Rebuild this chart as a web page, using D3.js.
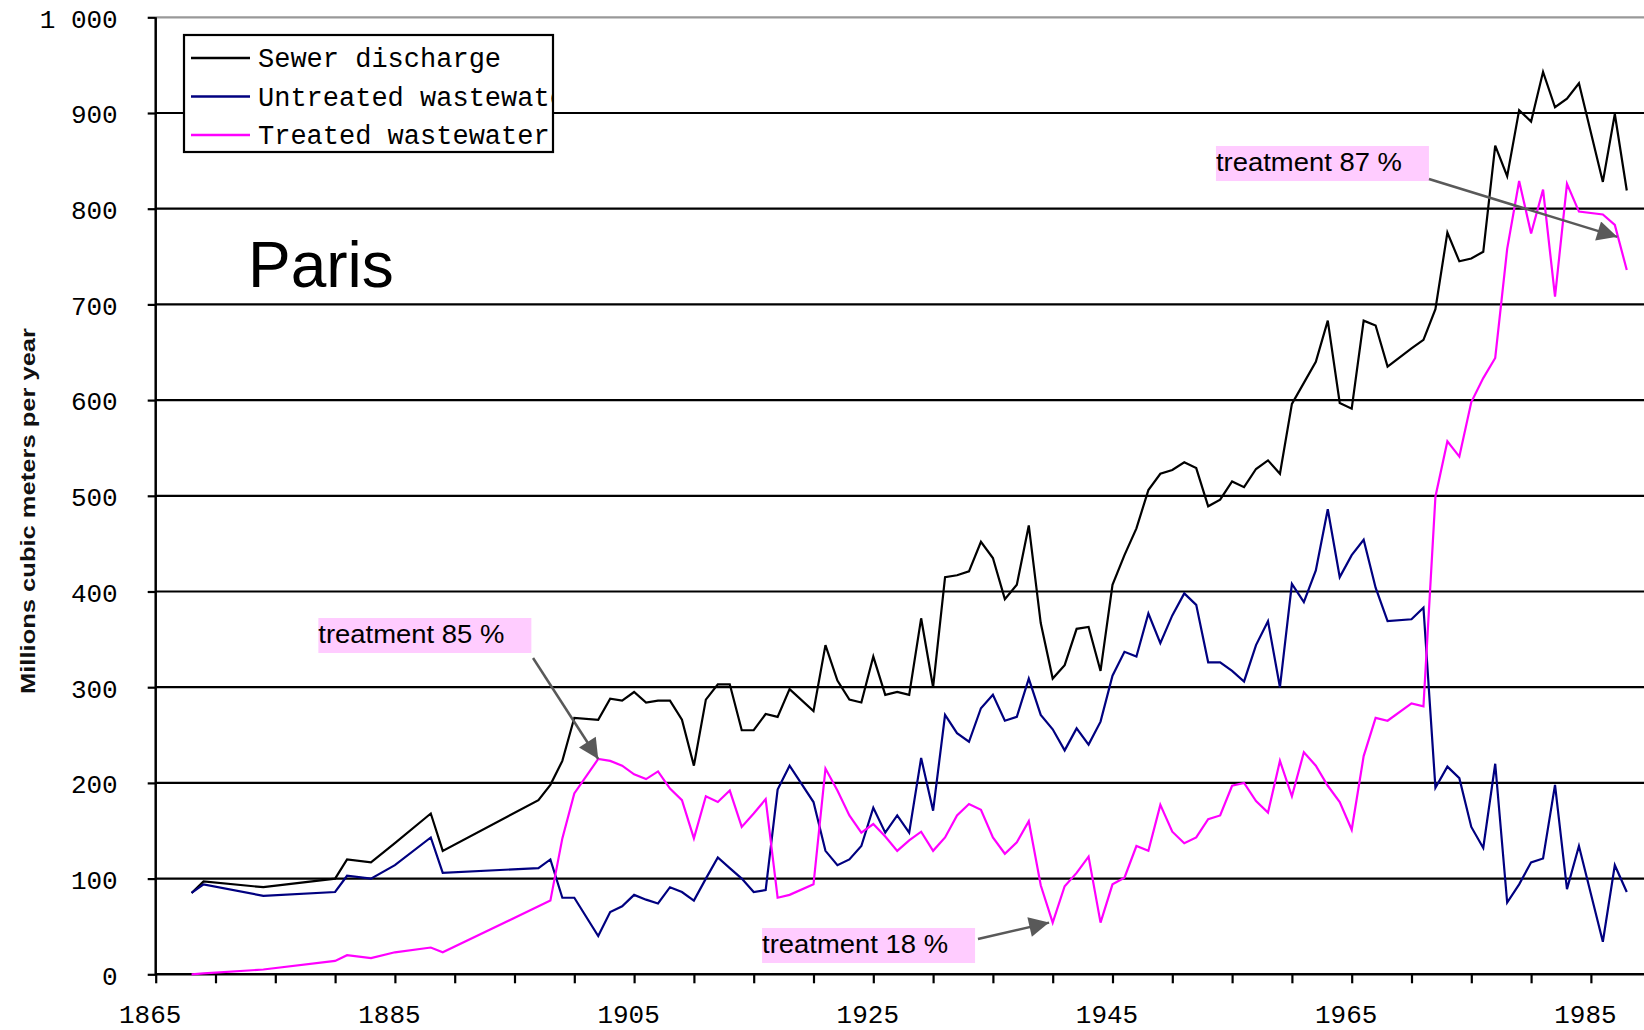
<!DOCTYPE html>
<html><head><meta charset="utf-8">
<script src="https://cdn.jsdelivr.net/npm/d3@7"></script>
<style>body{margin:0;background:#fff}svg{display:block}</style>
</head><body>
<svg id="chart" width="1644" height="1030"></svg>
<script>
// ---------- DATA ----------
const years = [1868,1869,1874,1880,1881,1883,1885,1888,1889,1897,1898,1899,1900,1902,
  1903,1904,1905,1906,1907,1908,1909,1910,1911,1912,1913,1914,1915,1916,1917,1918,
  1920,1921,1922,1923,1924,1925,1926,1927,1928,1929,1930,1931,1932,1933,1934,1935,1936,1937,1938,1939,
  1940,1941,1942,1943,1944,1945,1946,1947,1948,1949,1950,1951,1952,1953,1954,1955,1956,1957,1958,1959,
  1960,1961,1962,1963,1964,1965,1966,1967,1968,
  1970,1971,1972,1973,1974,1975,1976,1977,1978,1979,1980,1981,1982,1983,1984,
  1986,1987,1988];
const sewerDischarge = [85,97,91,100,120,117,137,168,129,182,198,223,268,266,
  288,286,295,284,286,286,266,218,287,303,303,255,255,272,269,298,
  275,344,307,287,284,332,292,295,292,372,300,415,417,421,452,435,392,407,469,367,
  309,323,361,363,317,407,438,466,506,523,527,535,529,489,496,515,509,528,537,523,
  596,618,640,683,597,591,683,678,635,
  654,663,695,775,745,748,755,866,834,903,891,943,906,915,931,
  828,899,819];
const untreatedWastewater = [85,94,82,86,103,100,114,143,106,111,120,80,80,40,
  65,71,83,78,74,91,86,77,100,122,111,100,86,88,193,218,
  180,129,114,120,134,174,148,166,148,226,171,271,252,243,278,292,265,269,309,271,
  256,234,257,240,264,312,337,332,377,346,375,398,386,326,326,317,306,344,369,300,
  408,389,422,486,415,438,454,404,369,
  371,383,195,217,205,154,132,220,75,94,117,121,198,89,134,
  34,114,86];
const treatedWastewater = [0,1,5,14,20,17,23,28,23,null,77,142,189,225,
  223,218,209,204,212,194,182,142,186,180,192,154,168,183,80,83,
  94,215,192,166,148,157,144,129,140,149,129,143,166,178,172,143,126,138,160,93,
  54,92,106,123,54,94,101,134,129,177,149,137,143,162,166,197,200,181,169,223,
  186,232,218,197,180,151,228,268,265,
  283,280,499,557,541,598,623,644,758,829,774,820,708,826,797,
  794,783,736];

const seriesNames = ["Sewer discharge","Untreated wastewater","Treated wastewater"];
const seriesColors = ["#000000","#000080","#ff00ff"];

const yTickValues = [0,100,200,300,400,500,600,700,800,900,1000];
const yTickLabels = ["0","100","200","300","400","500","600","700","800","900","1 000"];
const xTickValues = d3.range(1865, 1991, 5);
const xTickLabels = [1865,1885,1905,1925,1945,1965,1985];

const yAxisTitle = "Millions cubic meters per year";
const cityTitle = "Paris";

// annotations: text, box anchor (year,value), arrow start (year,value), arrow tip (year,value)
const annotationTexts = ["treatment 85 %","treatment 18 %","treatment 87 %"];
const annotationBox = [[1878.6,372.3],[1915.7,48.4],[1953.65,865.5]];
const annotationFrom = [[1896.55,330.5],[1933.75,36.9],[1971.46,831]];
const annotationTo = [[1902,225],[1939.7,54],[1987.2,770.6]];

// ---------- LAYOUT ----------
const W = 1644, H = 1030;
const x0 = 155.7, yBottom = 974.3, yTop = 17.3;
const pxPerYear = 11.96;
const x = d3.scaleLinear().domain([1865, 1990]).range([x0, x0 + 125*pxPerYear]);
const y = d3.scaleLinear().domain([0, 1000]).range([yBottom, yTop]);

const svg = d3.select("#chart");
const defs = svg.append("defs");
const mono = "'Liberation Mono', 'DejaVu Sans Mono', monospace";
const sans = "'Liberation Sans', Arial, sans-serif";

// gridlines
svg.append("g").selectAll("line")
  .data(yTickValues.filter(v => v > 0))
  .join("line")
  .attr("x1", x0).attr("x2", W)
  .attr("y1", d => y(d)).attr("y2", d => y(d))
  .attr("stroke", d => d === 1000 ? "#999" : "#000")
  .attr("stroke-width", 2.2);

// y axis
const yAxis = svg.append("g").attr("transform", `translate(${x0},0)`)
  .call(d3.axisLeft(y).tickValues(yTickValues).tickSize(8).tickPadding(30)
    .tickFormat((d,i) => yTickLabels[i]));
yAxis.select(".domain").remove();
yAxis.selectAll(".tick line").attr("stroke","#000").attr("stroke-width",2.2);
yAxis.selectAll(".tick text").attr("font-family", mono).attr("font-size", 26)
  .attr("fill","#000").attr("dy","0.38em");

// x axis
const xAxis = svg.append("g").attr("transform", `translate(0,${yBottom})`)
  .call(d3.axisBottom(x).tickValues(xTickValues).tickSize(9)
    .tickFormat(d => xTickLabels.includes(d) ? String(d) : ""));
xAxis.select(".domain").remove();
xAxis.selectAll(".tick line").attr("stroke","#000").attr("stroke-width",2.2);
xAxis.selectAll(".tick text").attr("font-family", mono).attr("font-size", 26)
  .attr("fill","#000").attr("y", 49).attr("dy", 0).attr("dx", -6);

// axis lines
svg.append("line").attr("x1", x0).attr("x2", W).attr("y1", yBottom).attr("y2", yBottom)
  .attr("stroke","#000").attr("stroke-width",2.5);
svg.append("line").attr("x1", x0).attr("x2", x0).attr("y1", yTop).attr("y2", yBottom + 1)
  .attr("stroke","#000").attr("stroke-width",2.5);

// y axis title
svg.append("text")
  .attr("transform", `translate(28,511) rotate(-90)`)
  .attr("text-anchor","middle").attr("dominant-baseline","central")
  .attr("font-family", sans).attr("font-weight","bold").attr("font-size", 20)
  .attr("textLength", 366).attr("lengthAdjust","spacingAndGlyphs")
  .attr("fill","#111")
  .text(yAxisTitle);

// series lines
const allSeries = [sewerDischarge, untreatedWastewater, treatedWastewater];
const lineGen = d3.line().x(d => x(d[0])).y(d => y(d[1]));
defs.append("clipPath").attr("id","plotClip")
  .append("rect").attr("x", x0).attr("y", 0).attr("width", W - x0).attr("height", yBottom + 2);
const gLines = svg.append("g").attr("clip-path","url(#plotClip)");
allSeries.forEach((vals, i) => {
  const pts = years.map((yr, j) => [yr, vals[j]]).filter(p => p[1] !== null);
  gLines.append("path").datum(pts)
    .attr("d", lineGen)
    .attr("fill","none")
    .attr("stroke", seriesColors[i])
    .attr("stroke-width", 2.2)
    .attr("stroke-linejoin","miter");
});

// legend
const lg = svg.append("g");
const lgX = 184, lgY = 35, lgW = 369, lgH = 117;
defs.append("clipPath").attr("id","legClip")
  .append("rect").attr("x", lgX).attr("y", lgY).attr("width", lgW - 1).attr("height", lgH);
lg.append("rect").attr("x", lgX).attr("y", lgY).attr("width", lgW).attr("height", lgH)
  .attr("fill","#fff").attr("stroke","#000").attr("stroke-width",2.2);
const lgItems = lg.append("g").attr("clip-path","url(#legClip)");
seriesNames.forEach((name, i) => {
  const cy = 58 + i*38.5;
  lgItems.append("line").attr("x1", 191).attr("x2", 250).attr("y1", cy).attr("y2", cy)
    .attr("stroke", seriesColors[i]).attr("stroke-width", 2.5);
  lgItems.append("text").attr("x", 258).attr("y", cy + 9)
    .attr("font-family", mono).attr("font-size", 27).attr("fill","#000")
    .text(name);
});

// city title
svg.append("text").attr("x", 248).attr("y", 287)
  .attr("font-family", sans).attr("font-size", 64).attr("fill","#000")
  .text(cityTitle);

// annotations
defs.append("marker").attr("id","arrowHead")
  .attr("viewBox","0 0 10 10").attr("refX",10).attr("refY",5)
  .attr("markerUnits","userSpaceOnUse").attr("markerWidth",24).attr("markerHeight",20)
  .attr("orient","auto")
  .append("path").attr("d","M0,0 L10,5 L0,10 Z").attr("fill","#595959");

const boxW = 213, boxH = 35;
annotationTexts.forEach((t, i) => {
  const bx = x(annotationBox[i][0]), by = y(annotationBox[i][1]);
  svg.append("rect").attr("x", bx).attr("y", by).attr("width", boxW).attr("height", boxH)
    .attr("fill","#ffccff");
  svg.append("text").attr("x", bx).attr("y", by + 25)
    .attr("font-family", sans).attr("font-size", 26).attr("fill","#000")
    .attr("textLength", 186).attr("lengthAdjust","spacingAndGlyphs")
    .text(t);
  svg.append("line")
    .attr("x1", x(annotationFrom[i][0])).attr("y1", y(annotationFrom[i][1]))
    .attr("x2", x(annotationTo[i][0])).attr("y2", y(annotationTo[i][1]))
    .attr("stroke","#595959").attr("stroke-width",2.5)
    .attr("marker-end","url(#arrowHead)");
});
</script>
</body></html>
